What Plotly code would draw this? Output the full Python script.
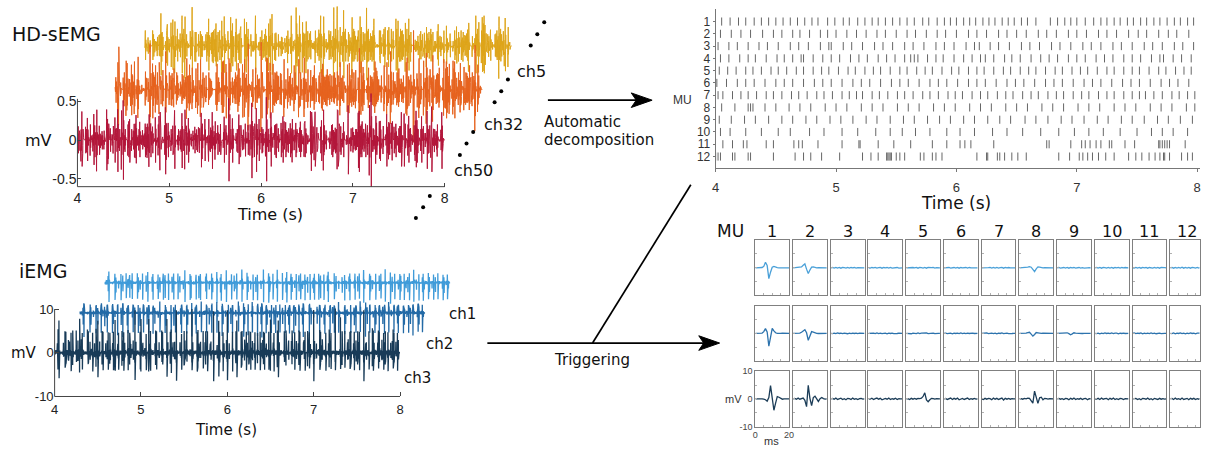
import numpy as np
import plotly.graph_objects as go

# ---------------------------------------------------------------- data
TIME_TICKS = [4, 5, 6, 7, 8]
TIME_TICK_LABELS = ["4", "5", "6", "7", "8"]
HD_MV_TICKS = [-0.5, 0, 0.5]
HD_MV_TICK_LABELS = ["-0.5", "0", "0.5"]
IEMG_MV_TICKS = [-10, 0, 10]
IEMG_MV_TICK_LABELS = ["-10", "0", "10"]
MU_NUMBERS = [1, 2, 3, 4, 5, 6, 7, 8, 9, 10, 11, 12]
MU_LABELS = ["1", "2", "3", "4", "5", "6", "7", "8", "9", "10", "11", "12"]
SEMG_CHANNELS = ["ch5", "ch32", "ch50"]
IEMG_CHANNELS = ["ch1", "ch2", "ch3"]
MUAP_MS = [0, 1, 2, 3, 4, 5, 6, 7, 8, 9, 10, 11, 12, 13, 14, 15, 16, 17, 18, 19, 20]

# discharge times (s) of the 12 decomposed motor units, read from the raster
MU1_FIRINGS = [4.05, 4.12, 4.19, 4.25, 4.32, 4.38, 4.44, 4.50, 4.56, 4.62, 4.68, 4.74, 4.80, 4.85, 4.93, 4.99,
               5.06, 5.11, 5.18, 5.24, 5.30, 5.35, 5.41, 5.47, 5.53, 5.59, 5.65, 5.72, 5.77, 5.84, 5.90, 5.95,
               6.00, 6.06, 6.11, 6.16, 6.22, 6.27, 6.32, 6.38, 6.43, 6.48, 6.54, 6.59, 6.66, 6.78, 6.84, 6.90,
               6.95, 7.00, 7.07, 7.14, 7.20, 7.25, 7.31, 7.36, 7.42, 7.47, 7.53, 7.58, 7.64, 7.69, 7.75, 7.81,
               7.86, 7.92, 7.97]
MU2_FIRINGS = [4.04, 4.13, 4.21, 4.29, 4.39, 4.48, 4.55, 4.64, 4.70, 4.78, 4.87, 4.93, 5.00, 5.09, 5.17, 5.25,
               5.34, 5.41, 5.50, 5.59, 5.66, 5.75, 5.84, 5.91, 6.00, 6.10, 6.17, 6.25, 6.35, 6.42, 6.50, 6.58,
               6.68, 6.75, 6.83, 6.93, 7.00, 7.08, 7.18, 7.25, 7.33, 7.43, 7.51, 7.58, 7.68, 7.76, 7.83, 7.93]
MU3_FIRINGS = [4.02, 4.11, 4.18, 4.27, 4.36, 4.43, 4.52, 4.62, 4.69, 4.77, 4.87, 4.94, 4.96, 5.06, 5.13, 5.22,
               5.32, 5.39, 5.47, 5.57, 5.64, 5.73, 5.83, 5.90, 5.98, 6.08, 6.15, 6.19, 6.28, 6.35, 6.44, 6.54,
               6.61, 6.69, 6.79, 6.86, 6.95, 7.05, 7.12, 7.20, 7.30, 7.37, 7.46, 7.56, 7.63, 7.71, 7.81, 7.88,
               7.97]
MU4_FIRINGS = [4.04, 4.11, 4.20, 4.27, 4.33, 4.42, 4.51, 4.57, 4.64, 4.71, 4.73, 4.81, 4.89, 4.96, 5.03, 5.12,
               5.19, 5.26, 5.35, 5.42, 5.49, 5.57, 5.62, 5.65, 5.68, 5.76, 5.83, 5.89, 5.98, 6.06, 6.13, 6.20,
               6.24, 6.31, 6.40, 6.46, 6.53, 6.62, 6.70, 6.77, 6.84, 6.93, 7.00, 7.07, 7.16, 7.23, 7.30, 7.39,
               7.46, 7.53, 7.62, 7.69, 7.72, 7.80, 7.87, 7.95]
MU5_FIRINGS = [4.03, 4.10, 4.17, 4.25, 4.31, 4.38, 4.46, 4.52, 4.59, 4.67, 4.73, 4.81, 4.88, 4.94, 5.02, 5.10,
               5.16, 5.24, 5.31, 5.37, 5.45, 5.53, 5.59, 5.67, 5.74, 5.80, 5.88, 5.96, 6.02, 6.10, 6.17, 6.23,
               6.31, 6.39, 6.45, 6.53, 6.60, 6.66, 6.74, 6.82, 6.88, 6.96, 7.03, 7.09, 7.17, 7.25, 7.31, 7.39,
               7.46, 7.52, 7.60, 7.68, 7.74, 7.82, 7.89, 7.95]
MU6_FIRINGS = [4.01, 4.09, 4.18, 4.25, 4.32, 4.41, 4.50, 4.57, 4.64, 4.73, 4.82, 4.89, 4.96, 5.05, 5.14, 5.21,
               5.28, 5.37, 5.46, 5.53, 5.60, 5.69, 5.78, 5.85, 5.92, 6.01, 6.10, 6.17, 6.24, 6.33, 6.42, 6.49,
               6.56, 6.65, 6.74, 6.81, 6.88, 6.97, 7.06, 7.13, 7.20, 7.29, 7.38, 7.45, 7.52, 7.61, 7.70, 7.77,
               7.84, 7.93]
MU7_FIRINGS = [4.02, 4.06, 4.14, 4.21, 4.27, 4.34, 4.42, 4.48, 4.55, 4.63, 4.69, 4.76, 4.84, 4.90, 4.97, 5.05,
               5.11, 5.17, 5.22, 5.30, 5.36, 5.43, 5.51, 5.57, 5.64, 5.72, 5.78, 5.85, 5.93, 5.99, 6.05, 6.13,
               6.20, 6.26, 6.34, 6.41, 6.47, 6.55, 6.62, 6.68, 6.76, 6.83, 6.89, 6.97, 7.04, 7.10, 7.18, 7.25,
               7.31, 7.39, 7.46, 7.52, 7.57, 7.64, 7.71, 7.79, 7.85, 7.92, 7.98]
MU8_FIRINGS = [4.05, 4.16, 4.27, 4.29, 4.31, 4.41, 4.50, 4.61, 4.70, 4.79, 4.91, 5.00, 5.09, 5.21, 5.30, 5.39,
               5.51, 5.60, 5.69, 5.81, 5.90, 5.99, 6.11, 6.20, 6.29, 6.41, 6.50, 6.59, 6.71, 6.80, 6.89, 7.01,
               7.10, 7.19, 7.31, 7.40, 7.49, 7.61, 7.70, 7.79, 7.91, 7.98]
MU9_FIRINGS = [4.03, 4.13, 4.24, 4.33, 4.44, 4.55, 4.64, 4.75, 4.84, 4.95, 5.04, 5.14, 5.25, 5.34, 5.45, 5.56,
               5.65, 5.76, 5.86, 5.95, 6.06, 6.15, 6.26, 6.36, 6.45, 6.57, 6.66, 6.76, 6.87, 6.96, 7.06, 7.17,
               7.26, 7.37, 7.46, 7.56, 7.67, 7.76, 7.86, 7.96]
MU10_FIRINGS = [4.04, 4.12, 4.25, 4.38, 4.52, 4.62, 4.78, 4.90, 5.05, 5.18, 5.33, 5.45, 5.55, 5.66, 5.78, 5.92,
                6.03, 6.15, 6.30, 6.42, 6.55, 6.70, 6.85, 6.98, 7.10, 7.22, 7.36, 7.50, 7.62, 7.71, 7.80, 7.92]
MU11_FIRINGS = [4.06, 4.14, 4.23, 4.26, 4.42, 4.48, 4.65, 4.69, 4.72, 4.85, 5.05, 5.19, 5.20, 5.35, 5.48, 5.62,
                5.80, 5.92, 6.03, 6.07, 6.12, 6.31, 6.75, 6.77, 6.95, 7.04, 7.07, 7.11, 7.16, 7.20, 7.27, 7.29,
                7.40, 7.48, 7.68, 7.69, 7.71, 7.73, 7.75, 7.77, 7.90]
MU12_FIRINGS = [4.00, 4.02, 4.04, 4.14, 4.16, 4.27, 4.29, 4.48, 4.66, 4.73, 4.79, 4.88, 5.03, 5.22, 5.29, 5.35,
                5.42, 5.43, 5.44, 5.45, 5.46, 5.50, 5.53, 5.57, 5.70, 5.73, 5.80, 5.83, 5.88, 6.17, 6.25, 6.26,
                6.34, 6.36, 6.40, 6.46, 6.51, 6.58, 6.85, 6.94, 7.02, 7.05, 7.09, 7.13, 7.18, 7.24, 7.31, 7.43,
                7.49, 7.54, 7.60, 7.65, 7.69, 7.72, 7.73, 7.77, 7.87, 7.92, 7.96]

# spike-triggered average MUAPs (mV) on the three intramuscular channels, 0..20 ms
IEMG_CH1_MUAPS = [
    [0, 0, 0.05, 0, 0.1, 0.5, 2.0, 0.8, -3.9, -1.6, 0.2, 0.5, 0.2, 0.05, 0, 0, -0.05, 0, 0.05, 0, 0],
    [0, 0.05, 0, 0.05, 0.1, 0.3, 0.9, 1.4, -0.5, -2.1, -0.8, 0.2, 0.3, 0.1, 0, 0.05, 0, -0.05, 0, 0, 0],
    [0, 0.1, -0.1, 0.15, -0.1, 0.1, -0.15, 0.1, 0.05, -0.1, 0.15, -0.1, 0.1, -0.05, 0.1, -0.1, 0.05, 0.1, -0.05, 0, 0],
    [0, -0.1, 0.1, -0.05, 0.15, -0.1, 0.05, 0.1, -0.15, 0.1, -0.05, 0.1, -0.1, 0.15, -0.1, 0.05, -0.05, 0.1, -0.1, 0.05, 0],
    [0, 0.05, 0.1, -0.1, 0.1, -0.05, 0.15, -0.15, 0.1, 0.05, -0.1, 0.1, -0.15, 0.1, -0.05, 0.05, 0.1, -0.1, 0.05, 0, 0],
    [0, 0.1, -0.05, 0.1, -0.1, 0.05, 0.1, -0.1, 0.15, -0.15, 0.1, -0.05, 0.05, 0.1, -0.1, 0.1, -0.05, 0.05, -0.05, 0, 0],
    [0, -0.05, 0.1, -0.1, 0.05, 0.1, -0.1, 0.15, -0.1, 0.1, -0.1, 0.05, 0.1, -0.15, 0.1, -0.05, 0.1, -0.05, 0.05, 0, 0],
    [0, 0, 0.05, 0.05, 0.1, 0.2, 0.4, 0.2, -0.6, -1.4, -0.4, 0.3, 0.2, 0.05, 0, 0.05, 0, -0.05, 0, 0, 0],
    [0, 0.1, -0.1, 0.05, 0.1, -0.1, 0.1, -0.15, 0.1, -0.05, 0.1, -0.1, 0.05, 0.1, -0.1, 0.05, -0.1, 0.05, 0, 0.05, 0],
    [0, 0.15, -0.1, 0.1, -0.15, 0.1, 0.05, -0.1, 0.15, -0.1, 0.1, -0.15, 0.1, -0.05, 0.15, -0.1, 0.1, -0.05, 0.1, -0.05, 0],
    [0, -0.1, 0.15, -0.1, 0.1, -0.15, 0.15, -0.05, 0.1, -0.15, 0.1, 0.05, -0.1, 0.15, -0.1, 0.1, -0.15, 0.1, -0.05, 0.05, 0],
    [0, 0.1, -0.15, 0.15, -0.1, 0.1, -0.1, 0.2, -0.15, 0.1, -0.1, 0.15, -0.15, 0.1, 0.05, -0.1, 0.15, -0.1, 0.1, -0.05, 0],
]
IEMG_CH2_MUAPS = [
    [0, 0, 0.05, 0.05, 0.1, 0.6, 1.7, 0.5, -4.6, -1.5, 1.8, 0.9, 0.2, 0, -0.1, 0, 0.05, 0, 0, 0, 0],
    [0, 0.05, 0, 0, 0.1, 0.4, 0.9, 1.3, 0.2, -2.5, -1.0, 0.6, 0.4, 0.1, 0, -0.05, 0, 0.05, 0, 0, 0],
    [0, -0.1, 0.1, -0.1, 0.15, -0.05, 0.1, -0.1, 0.1, 0.05, -0.15, 0.1, -0.1, 0.1, -0.05, 0.1, -0.1, 0.05, 0, -0.05, 0],
    [0, 0.1, -0.05, 0.1, -0.1, 0.15, -0.1, 0.05, -0.1, 0.1, 0.1, -0.15, 0.1, -0.05, 0.1, -0.1, 0.05, -0.05, 0.05, 0, 0],
    [0, -0.05, 0.1, -0.15, 0.1, 0.05, -0.1, 0.15, -0.1, 0.05, 0.1, -0.1, 0.15, -0.1, 0.05, -0.05, 0.1, -0.1, 0.05, 0, 0],
    [0, 0.1, -0.1, 0.05, 0.1, -0.15, 0.1, -0.05, 0.1, -0.1, 0.15, -0.1, 0.05, -0.1, 0.1, -0.05, 0.05, 0.1, -0.05, 0, 0],
    [0, 0.05, -0.1, 0.15, -0.1, 0.05, 0.1, -0.1, 0.1, -0.15, 0.1, -0.05, 0.15, -0.1, 0.05, 0.1, -0.1, 0.05, -0.05, 0, 0],
    [0, 0, 0.05, 0, 0.1, 0.3, 0.4, -0.3, -1.0, -0.4, 0.3, 0.2, 0.05, 0, 0.05, 0, 0, 0, 0, 0, 0],
    [0, 0.05, 0, 0.05, 0, 0.1, 0.2, -0.1, -0.5, -0.2, 0.2, 0.1, 0, 0.05, 0, -0.05, 0, 0, 0, 0, 0],
    [0, -0.1, 0.1, -0.15, 0.1, -0.1, 0.15, -0.05, 0.1, -0.1, 0.15, -0.1, 0.05, 0.1, -0.15, 0.1, -0.05, 0.1, -0.05, 0, 0],
    [0, 0.15, -0.1, 0.1, -0.05, 0.15, -0.15, 0.1, -0.1, 0.05, -0.1, 0.15, -0.1, 0.1, -0.15, 0.05, 0.1, -0.1, 0.05, 0, 0],
    [0, -0.1, 0.15, -0.15, 0.1, -0.05, 0.15, -0.1, 0.1, -0.15, 0.1, -0.1, 0.15, -0.05, 0.1, -0.15, 0.1, -0.05, 0.1, -0.05, 0],
]
IEMG_CH3_MUAPS = [
    [0, 0.05, 0.1, 0.15, 0, -0.1, -0.3, -0.8, 0.5, 4.8, 0.5, -4.1, -1.5, 0.8, 0.6, 0.1, -0.1, 0.05, 0, 0, 0],
    [0, 0.2, -0.1, 0.3, -0.1, 0.2, 0.3, -0.5, -2.8, 4.9, 0.2, -2.4, 0.5, 1.0, -0.2, -0.9, 0.1, 0.5, 0.1, -0.1, 0],
    [0, 0.2, -0.1, 0.3, -0.2, 0.1, 0.25, -0.2, 0.1, -0.3, 0.2, 0.1, -0.2, 0.3, -0.1, 0.1, -0.2, 0.1, 0.15, -0.1, 0],
    [0, -0.1, 0.25, -0.2, 0.1, 0.3, -0.1, 0.2, -0.3, 0.1, 0.2, -0.1, 0.3, -0.2, 0.1, -0.1, 0.25, -0.2, 0.1, 0, 0],
    [0, 0.1, -0.2, 0.2, -0.1, 0.15, -0.1, 0.2, 0.1, 0.3, 0.9, 2.2, -0.4, -1.0, -0.3, 0.2, 0.1, -0.1, 0.1, 0, 0],
    [0, 0.2, -0.2, 0.1, 0.3, -0.2, 0.2, -0.1, 0.3, -0.3, 0.1, 0.2, -0.2, 0.1, 0.3, -0.2, 0.1, -0.1, 0.2, -0.1, 0],
    [0, -0.2, 0.2, -0.1, 0.2, 0.1, -0.3, 0.3, -0.1, 0.2, -0.2, 0.1, 0.3, -0.4, 0.2, -0.1, 0.2, -0.1, 0.1, 0, 0],
    [0, 0.1, -0.1, 0.2, 0, 0.3, 0.2, -0.6, -1.5, 2.8, 0.6, -1.6, 0.4, 0.6, -0.3, 0.2, 0.1, -0.1, 0.1, 0, 0],
    [0, 0.2, -0.1, 0.1, -0.2, 0.2, 0.1, -0.3, 0.2, -0.1, 0.3, -0.2, 0.1, -0.1, 0.2, -0.2, 0.1, 0.2, -0.3, 0.1, 0],
    [0, -0.1, 0.2, -0.2, 0.3, -0.1, 0.1, 0.2, -0.3, 0.2, -0.1, 0.3, -0.2, 0.1, -0.2, 0.2, 0.1, -0.2, 0.1, 0, 0],
    [0, 0.1, 0.2, -0.2, 0.1, -0.3, 0.2, 0.1, -0.1, 0.3, -0.2, 0.1, -0.3, 0.2, 0.1, -0.2, 0.2, -0.1, 0.1, -0.1, 0],
    [0, 0.2, -0.2, 0.3, -0.1, 0.1, -0.2, 0.3, -0.2, 0.1, 0.2, -0.3, 0.2, -0.1, 0.2, -0.2, 0.1, -0.1, 0.2, -0.1, 0],
]

# surface MUAP shapes (1 ms samples) and per-MU amplitudes (mV) for the three HD-sEMG channels
SEMG_CH5_SHAPE = [0, 0.3, 0.8, 1.0, 0.3, -0.6, -0.9, -0.3, 0.3, 0.4, 0.1, -0.15, -0.1, 0]
SEMG_CH32_SHAPE = [0, -0.2, -0.6, -0.9, -0.2, 0.6, 1.0, 0.5, -0.2, -0.6, -0.4, 0.0, 0.2, 0.1, 0]
SEMG_CH50_SHAPE = [0, 0.2, 0.6, 1.0, 0.5, -0.5, -1.0, -0.6, 0.1, 0.5, 0.3, -0.1, -0.25, -0.1, 0]
SEMG_CH5_WEIGHTS = [-0.20, 0.16, 0.22, -0.13, 0.15, 0.20, -0.14, 0.19, -0.22, 0.13, 0.06, -0.05]
SEMG_CH32_WEIGHTS = [0.18, 0.21, -0.16, 0.10, 0.22, -0.17, 0.15, -0.20, 0.13, 0.19, -0.06, 0.05]
SEMG_CH50_WEIGHTS = [0.22, -0.18, 0.15, 0.12, -0.14, 0.17, -0.21, 0.12, 0.19, -0.15, 0.07, -0.06]

ALL_FIRINGS = [MU1_FIRINGS, MU2_FIRINGS, MU3_FIRINGS, MU4_FIRINGS, MU5_FIRINGS, MU6_FIRINGS,
               MU7_FIRINGS, MU8_FIRINGS, MU9_FIRINGS, MU10_FIRINGS, MU11_FIRINGS, MU12_FIRINGS]

# ---------------------------------------------------------------- signals
FS = 1000
T_START = 4.0
t_grid = T_START + np.arange(4 * FS + 1) / FS


def synth(templates, firings_list, center):
    sig = np.zeros(len(t_grid))
    for tmpl, firings in zip(templates, firings_list):
        tmpl = np.asarray(tmpl, dtype=float)
        for ft in firings:
            i0 = int(round((ft - T_START) * FS)) - center
            lo, hi = max(i0, 0), min(i0 + len(tmpl), len(sig))
            if hi > lo:
                sig[lo:hi] += tmpl[lo - i0:hi - i0]
    return sig


semg = {
    "ch5": synth([w * np.asarray(SEMG_CH5_SHAPE) for w in SEMG_CH5_WEIGHTS], ALL_FIRINGS, 4),
    "ch32": synth([w * np.asarray(SEMG_CH32_SHAPE) for w in SEMG_CH32_WEIGHTS], ALL_FIRINGS, 5),
    "ch50": synth([w * np.asarray(SEMG_CH50_SHAPE) for w in SEMG_CH50_WEIGHTS], ALL_FIRINGS, 5),
}
iemg = {
    "ch1": synth(IEMG_CH1_MUAPS, ALL_FIRINGS, 8),
    "ch2": synth(IEMG_CH2_MUAPS, ALL_FIRINGS, 8),
    "ch3": synth(IEMG_CH3_MUAPS, ALL_FIRINGS, 9),
}

# ---------------------------------------------------------------- layout helpers
W, H = 1205, 455
TXT = "DejaVu Sans"
NUM = "Liberation Sans"


def dom_x(a, b):
    return [max(a / W, 0.0), min(b / W, 1.0)]


def dom_y(top, bottom):
    return [1 - bottom / H, 1 - top / H]


fig = go.Figure()
layout = {}
annotations = []
shapes = []

# ---------------- HD-sEMG panel (axis 1)
HD_X0, HD_SX, HD_Y0, HD_SY = 74.0, 92.5, 139.0, 80.0
semg_style = {"ch5": ("#dea51b", 0.73, 1.21), "ch32": ("#e6631f", 0.41, 0.65), "ch50": ("#b3173b", 0.0, 0.0)}
for ch in SEMG_CHANNELS:
    col, dx, dy = semg_style[ch]
    fig.add_trace(go.Scatter(x=t_grid + dx, y=semg[ch] + dy, mode="lines", line=dict(color=col, width=1),
                             xaxis="x", yaxis="y", hoverinfo="skip", showlegend=False))
layout["xaxis"] = dict(domain=dom_x(HD_X0, HD_X0 + 4.8 * HD_SX), range=[4, 8.8], anchor="y",
                       tickmode="array", tickvals=TIME_TICKS, ticktext=TIME_TICK_LABELS,
                       ticks="inside", ticklen=4, tickcolor="#444", showgrid=False, zeroline=False,
                       showline=False, ticklabelstandoff=1,
                       tickfont=dict(family=NUM, size=14, color="#222"))
layout["yaxis"] = dict(domain=dom_y(HD_Y0 - 1.72 * HD_SY, HD_Y0 + 0.6 * HD_SY), range=[-0.6, 1.72], anchor="x",
                       tickmode="array", tickvals=HD_MV_TICKS, ticktext=HD_MV_TICK_LABELS,
                       ticks="inside", ticklen=4, tickcolor="#444", showgrid=False, zeroline=False,
                       showline=False, tickfont=dict(family=NUM, size=14, color="#222"))

# ---------------- iEMG panel (axis 2)
IE_X0, IE_SX, IE_Y0, IE_SY = 51.0, 87.0, 358.0, 4.5
iemg_style = {"ch1": ("#3f9bd9", 0.58, 16.0), "ch2": ("#236aa6", 0.29, 9.1), "ch3": ("#183b58", 0.0, 0.0)}
for ch in IEMG_CHANNELS:
    col, dx, dy = iemg_style[ch]
    fig.add_trace(go.Scatter(x=t_grid + dx, y=iemg[ch] + dy, mode="lines", line=dict(color=col, width=1.3),
                             xaxis="x2", yaxis="y2", hoverinfo="skip", showlegend=False))
layout["xaxis2"] = dict(domain=dom_x(IE_X0, IE_X0 + 4.7 * IE_SX), range=[4, 8.7], anchor="y2",
                        tickmode="array", tickvals=TIME_TICKS, ticktext=TIME_TICK_LABELS,
                        ticks="inside", ticklen=4, tickcolor="#444", showgrid=False, zeroline=False,
                        showline=False, ticklabelstandoff=4,
                        tickfont=dict(family=NUM, size=13, color="#222"))
layout["yaxis2"] = dict(domain=dom_y(IE_Y0 - 20.5 * IE_SY, IE_Y0 + 10 * IE_SY), range=[-10, 20.5], anchor="x2",
                        tickmode="array", tickvals=IEMG_MV_TICKS, ticktext=IEMG_MV_TICK_LABELS,
                        ticks="inside", ticklen=4, tickcolor="#444", showgrid=False, zeroline=False,
                        showline=False, tickfont=dict(family=NUM, size=13, color="#222"))

# ---------------- raster panel (axis 3)
for k, firings in zip(MU_NUMBERS, ALL_FIRINGS):
    xs, ys = [], []
    for ft in firings:
        xs += [ft, ft, None]
        ys += [k - 0.33, k + 0.33, None]
    fig.add_trace(go.Scatter(x=xs, y=ys, mode="lines", line=dict(color="#666666", width=1),
                             xaxis="x3", yaxis="y3", hoverinfo="skip", showlegend=False))
layout["xaxis3"] = dict(domain=dom_x(717, 717 + 4.02 * 121.3), range=[4, 8.02], anchor="y3",
                        tickmode="array", tickvals=TIME_TICKS, ticktext=TIME_TICK_LABELS,
                        ticks="outside", ticklen=3, tickcolor="#777", showline=True, linecolor="#777",
                        showgrid=False, zeroline=False, ticklabelstandoff=4,
                        tickfont=dict(family=NUM, size=13, color="#333"))
layout["yaxis3"] = dict(domain=dom_y(4.4, 168), range=[12.95, 0], anchor="x3",
                        tickmode="array", tickvals=MU_NUMBERS, ticktext=MU_LABELS,
                        ticks="outside", ticklen=2, tickcolor="#777", showline=True, linecolor="#777",
                        showgrid=False, zeroline=False,
                        tickfont=dict(family=NUM, size=12, color="#333"))

# ---------------- MUAP grid (axes 4..39)
muap_rows = [IEMG_CH1_MUAPS, IEMG_CH2_MUAPS, IEMG_CH3_MUAPS]
muap_cols = ["#4aa0d8", "#2d73ad", "#1b3c57"]
for r in range(3):
    for c in range(12):
        n = 4 + r * 12 + c
        left = 757 + 38 * c
        right = left + 34
        xr = [0, 20]
        if right > W:
            xr = [0, 20 * (W - 0.5 - left) / 34]
            right = W - 0.5
        top = 242 + 67.5 * r
        bottom = top + 57
        fig.add_trace(go.Scatter(x=MUAP_MS, y=muap_rows[r][c], mode="lines",
                                 line=dict(color=muap_cols[r], width=1.3),
                                 xaxis=f"x{n}", yaxis=f"y{n}", hoverinfo="skip", showlegend=False))
        labelled = (r == 2 and c == 0)
        layout[f"xaxis{n}"] = dict(domain=dom_x(left, right), range=xr, anchor=f"y{n}",
                                   showline=True, mirror=True, linecolor="#808080", linewidth=1,
                                   ticks="inside", ticklen=2, tickcolor="#b0b0b0",
                                   tickmode="array", tickvals=[0, 5, 10, 15, 20],
                                   ticktext=["0", "", "", "", "20"],
                                   showticklabels=labelled, showgrid=False, zeroline=False,
                                   tickfont=dict(family=NUM, size=9, color="#444"), fixedrange=True)
        layout[f"yaxis{n}"] = dict(domain=dom_y(top, bottom), range=[-10, 10], anchor=f"x{n}",
                                   showline=True, mirror=True, linecolor="#808080", linewidth=1,
                                   ticks="inside", ticklen=2, tickcolor="#b0b0b0",
                                   tickmode="array", tickvals=[-10, -5, 0, 5, 10],
                                   ticktext=["-10", "", "0", "", "10"],
                                   showticklabels=labelled, showgrid=False, zeroline=False,
                                   tickfont=dict(family=NUM, size=9, color="#444"), fixedrange=True)

# ---------------- canvas axis (40) in pixel coordinates for decorations
layout["xaxis40"] = dict(domain=[0, 1], range=[0, W], visible=False, fixedrange=True, anchor="y40")
layout["yaxis40"] = dict(domain=[0, 1], range=[H, 0], visible=False, fixedrange=True, anchor="x40")


def hd_px(x, y):
    return HD_X0 + (x - 4) * HD_SX, HD_Y0 - y * HD_SY


def ie_px(x, y):
    return IE_X0 + (x - 4) * IE_SX, IE_Y0 - y * IE_SY


def seg(p, q, color="#333", width=1):
    shapes.append(dict(type="line", xref="x40", yref="y40", x0=p[0], y0=p[1], x1=q[0], y1=q[1],
                       line=dict(color=color, width=width), layer="above"))


# axis lines of the two raw-signal panels
seg(hd_px(4, -0.6), hd_px(8, -0.6), "#444", 1)
seg(hd_px(4, -0.6), hd_px(4, 0.53), "#444", 1)
seg(ie_px(4, -10), ie_px(8, -10), "#444", 1)
seg(ie_px(4, -10), ie_px(4, 10), "#444", 1)

# arrows
seg((548, 98), (640, 98), "#000", 1.7)
shapes.append(dict(type="path", xref="x40", yref="y40", path="M 653,98 L 632,90.5 L 637,98 L 632,105.5 Z",
                   fillcolor="#000", line=dict(color="#000", width=1)))
seg((487, 348), (708, 348), "#000", 1.7)
shapes.append(dict(type="path", xref="x40", yref="y40", path="M 721,348 L 700,340.5 L 705,348 L 700,355.5 Z",
                   fillcolor="#000", line=dict(color="#000", width=1)))
seg((593, 348), (692, 185), "#000", 1.7)

# ellipsis dots between HD-sEMG channels
dot_x = [544.3, 537.3, 530.7, 507.7, 501.0, 494.3, 472.7, 466.0, 459.3, 429.0, 422.3, 415.0]
dot_y = [17.7, 30.0, 41.7, 76.7, 88.7, 100.0, 130.7, 142.7, 154.3, 196.7, 208.3, 219.3]
fig.add_trace(go.Scatter(x=dot_x, y=dot_y, mode="markers", marker=dict(color="#000", size=4),
                         xaxis="x40", yaxis="y40", hoverinfo="skip", showlegend=False))


def text(s, x, y, size, xanchor="left", family=TXT, color="#111"):
    annotations.append(dict(text=s, x=x, y=y, xref="x40", yref="y40", showarrow=False,
                            xanchor=xanchor, yanchor="middle", font=dict(family=family, size=size, color=color)))


text("HD-sEMG", 6, 30, 19)
text("mV", 35, 139, 16, "center")
text("Time (s)", 268, 216, 16, "center")
text("ch5", 515, 68, 16)
text("ch32", 482, 123, 16)
text("ch50", 451, 170, 16)

text("iEMG", 13, 274, 19)
text("mV", 20, 358, 15, "center")
text("Time (s)", 224, 437, 15, "center")
text("ch1", 446, 318, 15)
text("ch2", 423, 349, 15)
text("ch3", 401, 384, 15)

text("Automatic", 542, 120, 15)
text("decomposition", 542, 139, 15)
text("Triggering", 552, 365, 15)

text("MU", 684, 98, 12, "center", NUM, "#333")
text("Time (s)", 959, 204, 17, "center")

text("MU", 732, 233, 17, "center")
for c, lab in enumerate(MU_LABELS):
    text(lab, 774 + 38 * c, 233, 16, "center")
text("mV", 735, 406, 11, "center", NUM, "#333")
text("ms", 773, 449, 11, "center", NUM, "#333")

layout.update(dict(width=W, height=H, margin=dict(l=0, r=0, t=0, b=0), autosize=False,
                   paper_bgcolor="white", plot_bgcolor="rgba(0,0,0,0)", showlegend=False,
                   annotations=annotations, shapes=shapes, hovermode=False))
fig.update_layout(layout)

fig.write_html("out.html", config={"displayModeBar": False, "staticPlot": True},
               post_script="document.body.style.margin='0';")
